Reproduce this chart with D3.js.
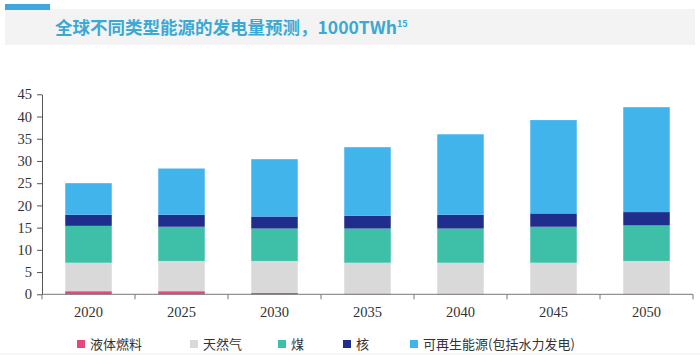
<!DOCTYPE html>
<html><head><meta charset="utf-8">
<script src="https://cdn.jsdelivr.net/npm/d3@7"></script>
<style>body{margin:0;background:#fff}svg{display:block}</style>
</head><body><svg id="c" width="700" height="358"></svg>
<script>
const years = ["2020","2025","2030","2035","2040","2045","2050"];
const seriesNames = ["液体燃料","天然气","煤","核","可再生能源(包括水力发电)"];
const liquid    = [0.7, 0.7, 0.3, 0.15, 0.1, 0.1, 0.1];
const gas       = [6.4, 6.8, 7.2, 6.95, 7.0, 7.0, 7.4];
const coal      = [8.3, 7.7, 7.3, 7.7, 7.7, 8.1, 8.0];
const nuclear   = [2.5, 2.7, 2.7, 2.9, 3.1, 3.0, 3.0];
const renewable = [7.1, 10.4, 12.9, 15.4, 18.1, 21.0, 23.6];
const yTicks = [0,5,10,15,20,25,30,35,40,45];
const colors = ["#e2487e","#d9d9d9","#3dbfa8","#1f2e8c","#42b4ec"];

const svg = d3.select("#c");
// title band
svg.append("rect").attr("x",5).attr("y",9).attr("width",690).attr("height",36).attr("fill","#f3f3f3");
svg.append("rect").attr("x",5).attr("y",4).attr("width",45).attr("height",6).attr("fill","#3ea7dc");
const t = svg.append("text").attr("x",55).attr("y",34).attr("fill","#3aa9d4")
  .attr("font-family","'Noto Sans CJK SC', sans-serif").attr("font-weight","bold").attr("font-size",17.5);
t.append("tspan").text("全球不同类型能源的发电量预测，1000TWh");
t.append("tspan").attr("font-size",9).attr("dy",-7).text("15");

const x = d3.scaleBand().domain(years).range([42,693]).paddingInner(0.5).paddingOuter(0.25);
const y = d3.scaleLinear().domain([0,45]).range([294.3,94.3]);

const table = years.map((yr,i)=>({year:yr, s0:liquid[i], s1:gas[i], s2:coal[i], s3:nuclear[i], s4:renewable[i]}));
const stack = d3.stack().keys(["s0","s1","s2","s3","s4"])(table);

svg.append("g").selectAll("g").data(stack).join("g").attr("fill",(d,i)=>colors[i])
  .selectAll("rect").data(d=>d).join("rect")
  .attr("x",d=>x(d.data.year)).attr("width",x.bandwidth())
  .attr("y",d=>y(d[1])).attr("height",d=>y(d[0])-y(d[1]));

// y axis
const ya = svg.append("g").attr("transform","translate(42,0)")
  .call(d3.axisLeft(y).tickValues(yTicks).tickSize(5).tickSizeOuter(0));
ya.select(".domain").attr("stroke","#555");
ya.selectAll(".tick line").attr("stroke","#555");
ya.selectAll("text").attr("font-family","'Liberation Serif', serif").attr("font-size",14.5).attr("fill","#333").attr("x",-10);

// x axis
const xa = svg.append("g").attr("transform","translate(0,294.3)");
xa.append("line").attr("x1",42).attr("x2",693).attr("stroke","#777").attr("stroke-width",1);
const bounds = d3.range(0, years.length+1).map(i=>42+i*651/years.length);
xa.selectAll("line.tk").data(bounds).join("line").attr("class","tk")
  .attr("x1",d=>d).attr("x2",d=>d).attr("y1",0).attr("y2",5).attr("stroke","#777");
xa.selectAll("text").data(years).join("text")
  .attr("x",d=>x(d)+x.bandwidth()/2).attr("y",23).attr("text-anchor","middle")
  .attr("font-family","'Liberation Serif', serif").attr("font-size",14.5).attr("fill","#333").text(d=>d);

// legend
const legX = [77, 190, 278, 343, 410];
const lg = svg.append("g").selectAll("g").data(seriesNames).join("g")
  .attr("transform",(d,i)=>`translate(${legX[i]},344)`);
lg.append("rect").attr("x",0).attr("y",-4).attr("width",8).attr("height",8).attr("fill",(d,i)=>colors[i]);
lg.append("text").attr("x",13).attr("y",5).attr("font-family","'Noto Sans CJK SC', sans-serif")
  .attr("font-size",13).attr("fill","#333").text(d=>d);
svg.append("line").attr("x1",0).attr("x2",700).attr("y1",354).attr("y2",354).attr("stroke","#eee");
</script></body></html>
